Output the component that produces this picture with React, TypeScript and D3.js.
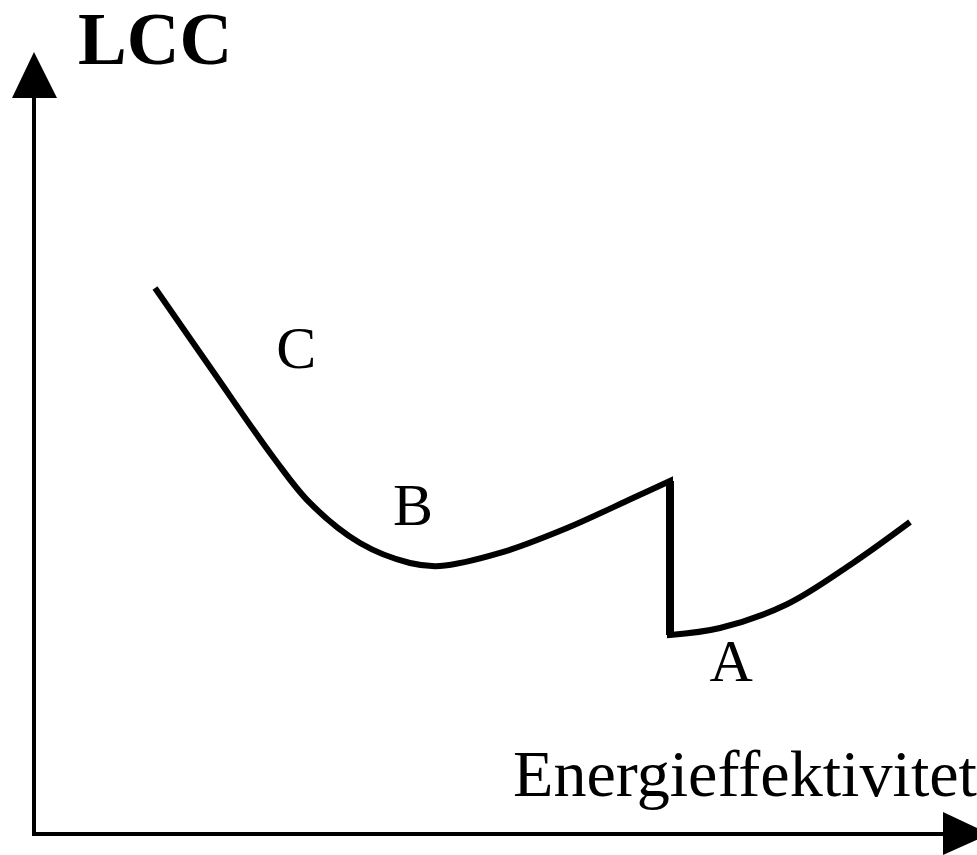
import * as d3 from "d3";
import { useMemo } from "react";

// LCC curve (energy efficiency on x, LCC on y, 0..100 units)
const leftX = [12.74, 18.79, 25.27, 29.19, 34.5, 39.81, 42.99, 49.36, 56.48, 63.48, 67.41];
const leftY = [69.74, 59.23, 48.08, 42.18, 37.05, 34.49, 34.1, 35.77, 38.97, 42.82, 45.0];
const rightX = [67.41, 72.72, 79.83, 86.84, 92.89];
const rightY = [25.26, 26.15, 29.2, 34.5, 39.74];

const labels = ["C", "B", "A"];
const labelX = [25.6, 38.0, 71.6];
const labelY = [59.5, 39.3, 19.3];

const yTitle = "LCC";
const xTitle = "Energieffektivitet";

const W = 977;
const H = 855;

const App = () => {
  const x = d3.scaleLinear().domain([0, 100]).range([35, 977]);
  const y = d3.scaleLinear().domain([0, 100]).range([832, 52]);

  const line = d3
    .line<[number, number]>()
    .x((d) => x(d[0]))
    .y((d) => y(d[1]))
    .curve(d3.curveCatmullRom.alpha(0.5));

  const pathD = useMemo(() => {
    const left = line(leftX.map((v, i) => [v, leftY[i]] as [number, number])) || "";
    const right = line(rightX.map((v, i) => [v, rightY[i]] as [number, number])) || "";
    // join both pieces so the drop is one vertical stroke
    return left + right.replace(/^M/, "L");
  }, []);

  const dropX = x(leftX[leftX.length - 1]);
  const serif = "'Liberation Serif', 'Times New Roman', serif";

  return (
    <svg
      width={W}
      height={H}
      style={{ position: "absolute", left: 0, top: 0, background: "#fff" }}
    >
      {/* y axis */}
      <line x1={34} y1={95} x2={34} y2={834} stroke="#000" strokeWidth={4} />
      <polygon points="34,52 12,98 57,98" fill="#000" />
      {/* x axis */}
      <line x1={32} y1={834} x2={945} y2={834} stroke="#000" strokeWidth={4} />
      <polygon points="943,812 943,855 990,834" fill="#000" />

      <text x={78} y={64} fontFamily={serif} fontWeight="bold" fontSize={73} fill="#000">
        {yTitle}
      </text>
      <text
        x={513}
        y={796}
        fontFamily={serif}
        fontSize={66}
        textLength={464}
        lengthAdjust="spacingAndGlyphs"
        fill="#000"
      >
        {xTitle}
      </text>

      <path
        d={pathD}
        fill="none"
        stroke="#000"
        strokeWidth={6}
        strokeLinejoin="miter"
        strokeLinecap="butt"
      />
      {/* the drop is drawn a little heavier in the original */}
      <line
        x1={dropX}
        y1={y(leftY[leftY.length - 1])}
        x2={dropX}
        y2={y(rightY[0])}
        stroke="#000"
        strokeWidth={8}
      />

      {labels.map((l, i) => (
        <text
          key={l}
          x={x(labelX[i])}
          y={y(labelY[i])}
          fontFamily={serif}
          fontSize={60}
          fill="#000"
        >
          {l}
        </text>
      ))}
    </svg>
  );
};

export default App;
